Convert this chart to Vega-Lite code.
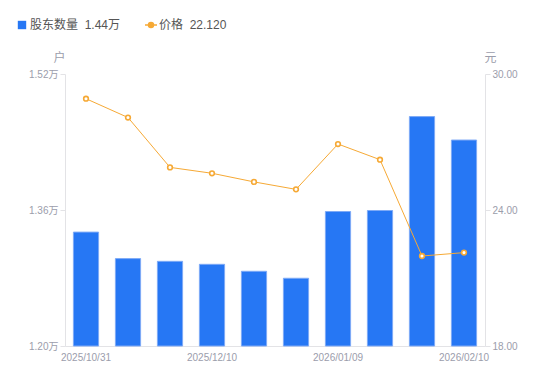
{
  "$schema": "https://vega.github.io/schema/vega-lite/v6.json",
  "width": 420,
  "height": 272,
  "autosize": {"type": "none"},
  "padding": {"left": 65, "top": 74, "right": 65, "bottom": 35},
  "background": "#ffffff",
  "config": {
    "view": {"stroke": null},
    "font": "Liberation Sans, Noto Sans CJK SC, sans-serif",
    "axis": {
      "grid": false,
      "domainColor": "#e3e3e6",
      "tickColor": "#e3e3e6",
      "labelColor": "#9b9dab",
      "labelFontSize": 10,
      "titleColor": "#9b9dab",
      "titleFontSize": 12,
      "titleFontWeight": "normal"
    }
  },
  "data": {
    "values": [
      {"date": "2025/10/31", "holders": 13340, "price": 28.91},
      {"date": "2025/11/10", "holders": 13028, "price": 28.08},
      {"date": "2025/11/20", "holders": 12996, "price": 25.88},
      {"date": "2025/12/10", "holders": 12961, "price": 25.62},
      {"date": "2025/12/19", "holders": 12879, "price": 25.24},
      {"date": "2025/12/31", "holders": 12797, "price": 24.91},
      {"date": "2026/01/09", "holders": 13582, "price": 26.91},
      {"date": "2026/01/20", "holders": 13594, "price": 26.22},
      {"date": "2026/01/30", "holders": 14699, "price": 21.97},
      {"date": "2026/02/10", "holders": 14423, "price": 22.12}
    ]
  },
  "encoding": {
    "x": {
      "field": "date",
      "type": "ordinal",
      "sort": null,
      "scale": {"paddingInner": 0.4, "paddingOuter": 0.2},
      "axis": {
        "title": null,
        "values": ["2025/10/31", "2025/12/10", "2026/01/09", "2026/02/10"],
        "labelAngle": 0,
        "ticks": false,
        "labelPadding": 6
      }
    }
  },
  "layer": [
    {
      "mark": {"type": "bar", "stroke": "#7eaaf6", "strokeWidth": 1},
      "encoding": {
        "y": {
          "field": "holders",
          "type": "quantitative",
          "scale": {"domain": [12000, 15200], "nice": false, "zero": false},
          "axis": {
            "orient": "left",
            "title": "户",
            "titleAngle": 0,
            "titleX": -6,
            "titleY": -17,
            "titleAlign": "center",
            "titleBaseline": "middle",
            "values": [12000, 13600, 15200],
            "labelExpr": "format(datum.value/10000, '.2f') + '万'",
            "tickSize": 5,
            "labelPadding": 2
          }
        },
        "y2": {"datum": 12000},
        "fill": {
          "datum": "股东数量",
          "scale": {"domain": ["股东数量", "价格"], "range": ["#2677f4", "#f6a935"]},
          "legend": {
            "orient": "none",
            "legendX": -49,
            "legendY": -55,
            "direction": "horizontal",
            "title": null,
            "labelFontSize": 12,
            "labelColor": "#555555",
            "labelOffset": 2,
            "columnPadding": 21,
            "symbolSize": 144,
            "symbolOpacity": 1,
            "symbolType": {"expr": "datum.value === '价格' ? 'M-1,0L-0.42,0M0.42,0L1,0M-0.42,0A0.42,0.42,0,1,1,0.42,0A0.42,0.42,0,1,1,-0.42,0' : 'M-0.7,-0.7L0.7,-0.7L0.7,0.7L-0.7,0.7Z'"},
            "symbolFillColor": {"expr": "datum.value === '价格' ? '#ffffff' : '#2677f4'"},
            "symbolStrokeColor": {"expr": "datum.value === '价格' ? '#f6a935' : '#2677f4'"},
            "symbolStrokeWidth": {"expr": "datum.value === '价格' ? 1.5 : 0"},
            "labelExpr": "datum.label === '价格' ? '价格\u00a0\u00a022.120' : '股东数量\u00a0\u00a01.44万'"
          }
        }
      }
    },
    {
      "encoding": {
        "y": {
          "field": "price",
          "type": "quantitative",
          "scale": {"domain": [18, 30], "nice": false, "zero": false},
          "axis": {
            "orient": "right",
            "title": "元",
            "titleAngle": 0,
            "titleX": 5,
            "titleY": -17,
            "titleAlign": "center",
            "titleBaseline": "middle",
            "values": [18, 24, 30],
            "format": ".2f",
            "tickSize": 5,
            "labelPadding": 2
          }
        }
      },
      "layer": [
        {
          "mark": {"type": "line", "strokeWidth": 1, "stroke": "#f6a935"}
        },
        {
          "mark": {"type": "point", "shape": "circle", "size": 22, "filled": false, "fill": "#ffffff", "fillOpacity": 1, "stroke": "#f6a935", "strokeWidth": 1.6, "opacity": 1}
        }
      ]
    }
  ],
  "resolve": {"scale": {"y": "independent"}}
}
